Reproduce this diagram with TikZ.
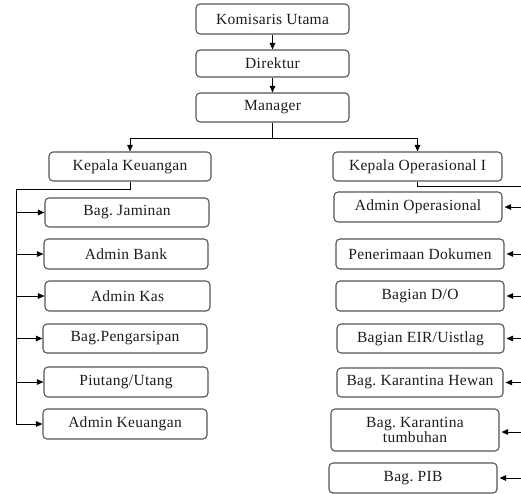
\documentclass[tikz,border=0pt]{standalone}
\usepackage{fontspec}
\setmainfont[LetterSpace=2]{Liberation Serif}
\usetikzlibrary{arrows.meta}
\frenchspacing
\definecolor{boxline}{RGB}{85,85,85}
\definecolor{txt}{RGB}{35,25,25}
\tikzset{
  box/.style={draw=boxline, line width=1.1pt, rounded corners=4pt, fill=white,
    text=txt, font=\fontsize{15.5}{15}\selectfont, inner sep=0pt, align=center},
  conn/.style={draw=black, line width=0.9pt},
  arr/.style={conn, -{Triangle[length=6.5pt,width=5.5pt]}},
}
\begin{document}
\begin{tikzpicture}[x=1pt,y=-1pt]
\useasboundingbox (0,0) rectangle (521,493);
% top chain
\node[box, minimum width=153pt, minimum height=30pt] (kom) at (272.5,19) {Komisaris Utama};
\node[box, minimum width=153pt, minimum height=27pt] (dir) at (272.5,63.5) {Direktur};
\node[box, minimum width=153pt, minimum height=29pt] (man) at (272.5,107.5) {Manager};
\node[box, minimum width=162pt, minimum height=29pt] (kk) at (130,166.5) {Kepala Keuangan};
\node[box, minimum width=169pt, minimum height=29pt] (ko) at (417.5,166.5) {Kepala Operasional I};
% left
\node[box, minimum width=164pt, minimum height=29pt] (jam) at (127,212.5) {Bag. Jaminan};
\node[box, minimum width=164pt, minimum height=30pt] (abank) at (126,254) {Admin Bank};
\node[box, minimum width=165pt, minimum height=30pt] (akas) at (127.5,296) {Admin Kas};
\node[box, minimum width=164pt, minimum height=29pt] (peng) at (125,338.5) {Bag.Pengarsipan};
\node[box, minimum width=164pt, minimum height=30pt] (piu) at (126,382) {Piutang/Utang};
\node[box, minimum width=164pt, minimum height=30pt] (akeu) at (125,424) {Admin Keuangan};
% right
\node[box, minimum width=168pt, minimum height=30pt] (aop) at (418,207) {Admin Operasional};
\node[box, minimum width=168pt, minimum height=30pt] (pdok) at (420,254) {Penerimaan Dokumen};
\node[box, minimum width=168pt, minimum height=30pt] (bdo) at (420,296) {Bagian D/O};
\node[box, minimum width=167pt, minimum height=29pt] (eir) at (420.5,338.5) {Bagian EIR/Uistlag};
\node[box, minimum width=166pt, minimum height=29pt] (kh) at (420,382.5) {Bag. Karantina Hewan};
\node[box, minimum width=168pt, minimum height=42pt] (kt) at (415,430) {Bag. Karantina\\tumbuhan};
\node[box, minimum width=168pt, minimum height=30pt] (pib) at (413,478) {Bag. PIB};
% connectors top
\draw[arr] (kom) -- (dir);
\draw[arr] (dir) -- (man);
\coordinate (mj) at (272.5,138);
\draw[conn] (man.south) -- (mj);
\draw[arr] (mj) -| (kk.north);
\draw[arr] (mj) -| (ko.north);
% left bus
\coordinate (lt) at (16,189);
\draw[conn] (kk.south) |- (lt) -- (lt |- akeu.west);
\foreach \n in {jam,abank,akas,peng,piu,akeu}{
  \draw[arr] (lt |- \n.west) -- (\n.west);
}
% right bus
\coordinate (rt) at (521,186);
\draw[conn] (ko.south) |- (rt);
\foreach \n in {aop,pdok,bdo,eir,kh,pib}{
  \draw[arr] (rt |- \n.east) -- ([xshift=2pt]\n.east);
}
\coordinate (ktr) at (521,432);
\draw[arr] (ktr) -- ([xshift=2pt]ktr -| kt.east);
\end{tikzpicture}
\end{document}
